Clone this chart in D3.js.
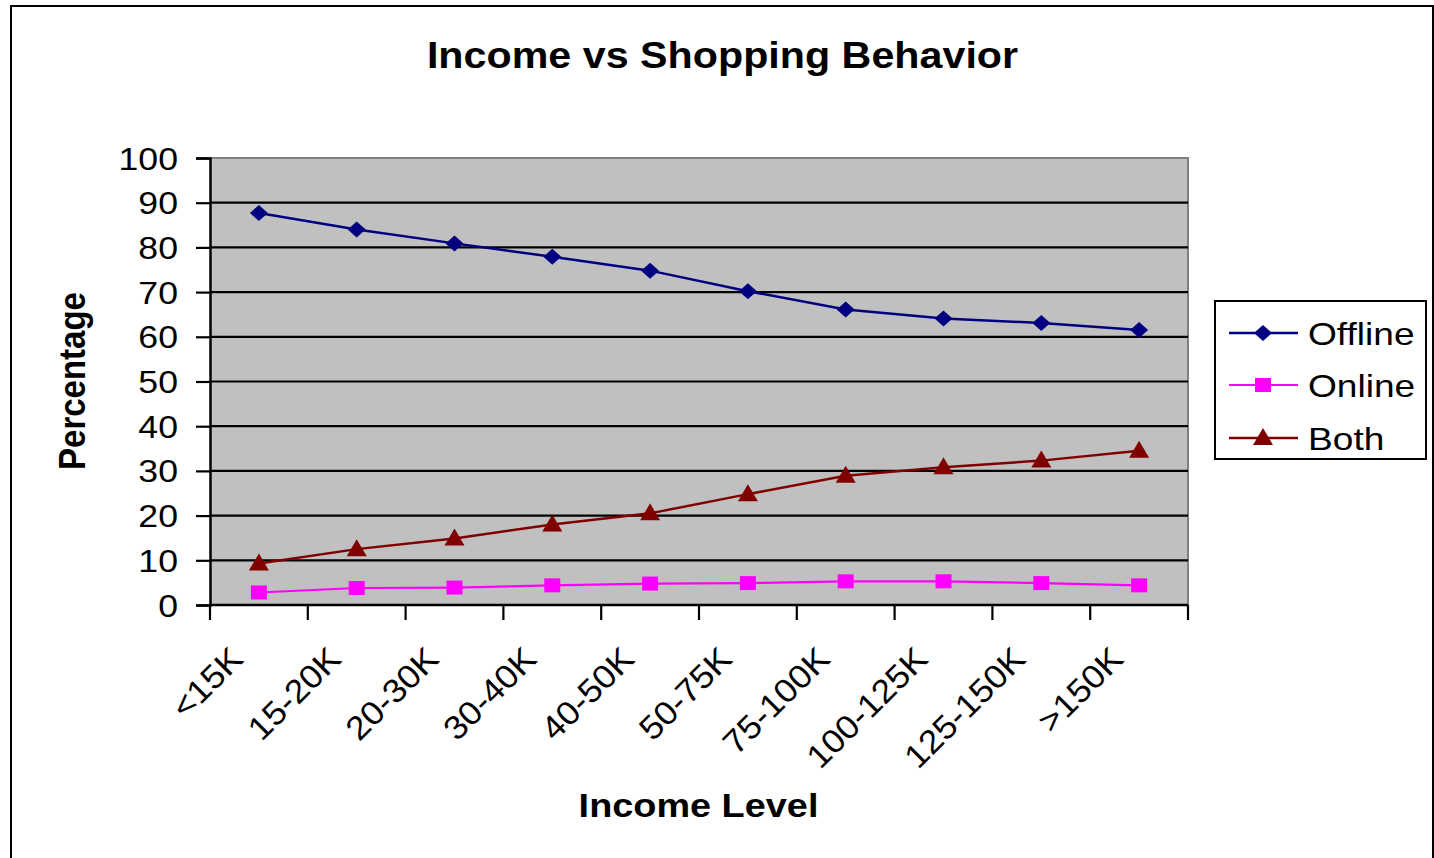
<!DOCTYPE html>
<html>
<head>
<meta charset="utf-8">
<script src="https://cdn.jsdelivr.net/npm/d3@7"></script>
<style>
  html, body { margin: 0; padding: 0; background: #fff; }
  svg { display: block; }
  text { font-family: "Liberation Sans", Arial, sans-serif; fill: #000; }
</style>
</head>
<body>
<svg id="chart" width="1434" height="858"></svg>
<script>
// Income brackets along the x axis
const categories = ["<15K", "15-20K", "20-30K", "30-40K", "40-50K", "50-75K", "75-100K", "100-125K", "125-150K", ">150K"];

// Share of shoppers (%) in each bracket
const offline = [87.7, 84.0, 80.9, 77.9, 74.8, 70.2, 66.1, 64.1, 63.1, 61.5];
const online  = [2.8, 3.8, 3.9, 4.4, 4.8, 4.9, 5.3, 5.3, 4.9, 4.4];
const both    = [9.3, 12.5, 14.9, 18.0, 20.5, 24.8, 28.9, 30.8, 32.3, 34.5];

const yTicks = [0, 10, 20, 30, 40, 50, 60, 70, 80, 90, 100];

const seriesNames = ["Offline", "Online", "Both"];
const seriesValues = [offline, online, both];

const svg = d3.select("#chart");
const SX = 1.13; // horizontal stretch of the lettering

const plot = { left: 210, top: 158, right: 1188, bottom: 605 };

const x = d3.scaleBand().domain(categories).range([plot.left, plot.right]).paddingInner(0).paddingOuter(0);
const y = d3.scaleLinear().domain([0, 100]).range([plot.bottom, plot.top]);

// Outer chart frame
svg.append("rect")
  .attr("x", 11).attr("y", 6).attr("width", 1422).attr("height", 880)
  .attr("fill", "#fff").attr("stroke", "#000").attr("stroke-width", 2);

// Title
svg.append("text")
  .attr("transform", `translate(722.5,68) scale(${SX},1)`)
  .attr("text-anchor", "middle")
  .attr("font-weight", "bold")
  .attr("font-size", 36.5)
  .text("Income vs Shopping Behavior");

// Plot background
svg.append("rect")
  .attr("x", plot.left).attr("y", plot.top)
  .attr("width", plot.right - plot.left).attr("height", plot.bottom - plot.top)
  .attr("fill", "#C0C0C0");

// Top and right edges of the plot area
svg.append("path")
  .attr("d", `M${plot.left},${plot.top}H${plot.right}V${plot.bottom}`)
  .attr("fill", "none").attr("stroke", "#808080").attr("stroke-width", 2);

// Horizontal gridlines
svg.append("g").selectAll("line")
  .data(yTicks.filter(d => d > 0 && d < 100))
  .join("line")
  .attr("x1", plot.left).attr("x2", plot.right)
  .attr("y1", d => y(d)).attr("y2", d => y(d))
  .attr("stroke", "#000").attr("stroke-width", 2.2);

// Y axis
const yAxis = svg.append("g")
  .attr("transform", `translate(${plot.left},0)`)
  .call(d3.axisLeft(y).tickValues(yTicks).tickSize(14).tickPadding(0).tickFormat(d3.format("d")));
yAxis.select(".domain").attr("stroke", "#000").attr("stroke-width", 2.5);
yAxis.selectAll(".tick line").attr("stroke", "#000").attr("stroke-width", 2.2);
yAxis.selectAll(".tick text")
  .attr("x", null).attr("dy", null)
  .attr("font-family", "Liberation Sans, Arial, sans-serif")
  .attr("font-size", 31)
  .attr("fill", "#000")
  .attr("text-anchor", "end")
  .attr("transform", `translate(${178 - plot.left},11) scale(1.15,1)`);

// X axis line and tick marks at category boundaries
const xg = svg.append("g");
xg.append("line")
  .attr("x1", plot.left).attr("x2", plot.right)
  .attr("y1", plot.bottom).attr("y2", plot.bottom)
  .attr("stroke", "#000").attr("stroke-width", 2.5);
const boundaries = categories.map(c => x(c)).concat([x(categories[categories.length - 1]) + x.bandwidth()]);
xg.selectAll("line.tick")
  .data(boundaries)
  .join("line")
  .attr("class", "tick")
  .attr("x1", d => d).attr("x2", d => d)
  .attr("y1", plot.bottom).attr("y2", plot.bottom + 15)
  .attr("stroke", "#000").attr("stroke-width", 2.2);

// Rotated category labels
xg.selectAll("text")
  .data(categories)
  .join("text")
  .attr("text-anchor", "end")
  .attr("font-size", 33)
  .attr("transform", d => `translate(${x(d) + x.bandwidth() / 2 - 14},661) rotate(-45) scale(1.08,1)`)
  .text(d => d);

// Axis titles
svg.append("text")
  .attr("transform", `translate(698.5,817) scale(${SX},1)`)
  .attr("text-anchor", "middle")
  .attr("font-weight", "bold")
  .attr("font-size", 33.5)
  .text("Income Level");

svg.append("text")
  .attr("transform", `translate(85,381) scale(${SX},1) rotate(-90)`)
  .attr("text-anchor", "middle")
  .attr("font-weight", "bold")
  .attr("font-size", 33)
  .text("Percentage");

// Marker shapes
const diamond = { draw(ctx) { ctx.moveTo(0, -8); ctx.lineTo(9, 0); ctx.lineTo(0, 8); ctx.lineTo(-9, 0); ctx.closePath(); } };
const square = { draw(ctx) { ctx.rect(-8, -7, 16, 14); } };
const triangle = { draw(ctx) { ctx.moveTo(0, -10); ctx.lineTo(10, 7); ctx.lineTo(-10, 7); ctx.closePath(); } };

const styles = [
  { color: "#000080", width: 2.5, shape: diamond },
  { color: "#FF00FF", width: 2.2, shape: square },
  { color: "#800000", width: 2.5, shape: triangle }
];

const line = d3.line()
  .x((d, i) => x(categories[i]) + x.bandwidth() / 2)
  .y(d => y(d));

seriesValues.forEach((vals, s) => {
  const st = styles[s];
  const g = svg.append("g");
  g.append("path")
    .datum(vals)
    .attr("d", line)
    .attr("fill", "none")
    .attr("stroke", st.color)
    .attr("stroke-width", st.width);
  g.selectAll("path.marker")
    .data(vals)
    .join("path")
    .attr("class", "marker")
    .attr("d", d3.symbol().type(st.shape))
    .attr("transform", (d, i) => `translate(${x(categories[i]) + x.bandwidth() / 2},${y(d)})`)
    .attr("fill", st.color);
});

// Legend
const legend = svg.append("g");
legend.append("rect")
  .attr("x", 1215).attr("y", 301).attr("width", 211).attr("height", 158)
  .attr("fill", "#fff").attr("stroke", "#000").attr("stroke-width", 2);

const legendRows = [333, 385, 438];
seriesNames.forEach((name, s) => {
  const st = styles[s];
  const cy = legendRows[s];
  legend.append("line")
    .attr("x1", 1229).attr("x2", 1298).attr("y1", cy).attr("y2", cy)
    .attr("stroke", st.color).attr("stroke-width", st.width);
  legend.append("path")
    .attr("d", d3.symbol().type(st.shape))
    .attr("transform", `translate(1263,${cy})`)
    .attr("fill", st.color);
  legend.append("text")
    .attr("transform", `translate(1308,${cy + 11.5}) scale(1.16,1)`)
    .attr("font-size", 32)
    .text(name);
});
</script>
</body>
</html>
